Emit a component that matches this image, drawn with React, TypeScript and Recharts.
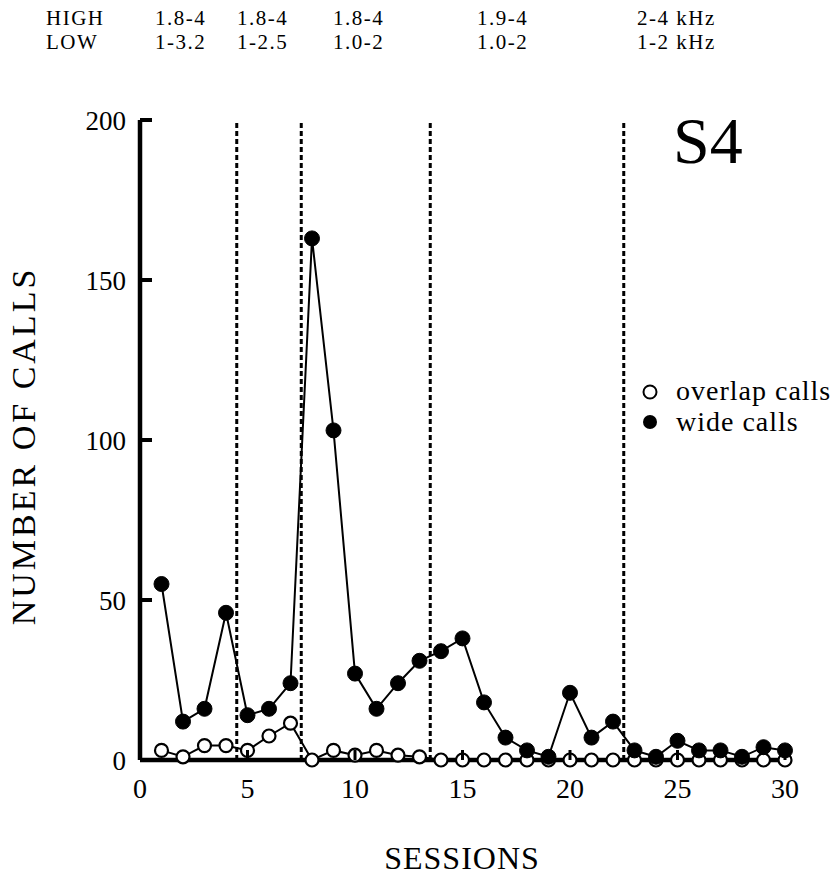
import { ComposedChart, Line, XAxis, YAxis, ReferenceLine } from "recharts";

// session numbers and call counts
const SESSION_NUMS = [1, 2, 3, 4, 5, 6, 7, 8, 9, 10, 11, 12, 13, 14, 15, 16, 17, 18, 19, 20, 21, 22, 23, 24, 25, 26, 27, 28, 29, 30];
const OVERLAP_CALLS = [3, 1, 4.5, 4.5, 3, 7.5, 11.5, 0, 3, 1.5, 3, 1.5, 1, 0, 0, 0, 0, 0, 0, 0, 0, 0, 0, 0, 0, 0, 0, 0, 0, 0];
const WIDE_CALLS = [55, 12, 16, 46, 14, 16, 24, 163, 103, 27, 16, 24, 31, 34, 38, 18, 7, 3, 1, 21, 7, 12, 3, 1, 6, 3, 3, 1, 4, 3];

const X_TICKS = [0, 5, 10, 15, 20, 25, 30];
const Y_TICKS = [0, 50, 100, 150, 200];
const PHASE_BOUNDARIES = [4.5, 7.5, 13.5, 22.5];

const HIGH_BANDS = ["1.8-4", "1.8-4", "1.8-4", "1.9-4", "2-4 kHz"];
const LOW_BANDS = ["1-3.2", "1-2.5", "1.0-2", "1.0-2", "1-2 kHz"];
const BAND_X = [155, 237, 333, 477, 637];

const SERIF = "'Liberation Serif', 'Times New Roman', serif";

const data = SESSION_NUMS.map((s, i) => ({
  session: s,
  overlap: OVERLAP_CALLS[i],
  wide: WIDE_CALLS[i],
}));

const YTick = ({ x, y, payload }: any) => (
  <g>
    {payload.value !== 0 && (
      <line x1={x} x2={x + 12} y1={y} y2={y} stroke="#000" strokeWidth={4} />
    )}
    <text x={x - 14} y={y} dy={10} textAnchor="end" fontSize={27} fontFamily={SERIF} fill="#000">
      {payload.value}
    </text>
  </g>
);

const XTick = ({ x, y, payload }: any) => (
  <g>
    {payload.value !== 0 && (
      <line x1={x} x2={x} y1={y} y2={y - 10} stroke="#000" strokeWidth={3} />
    )}
    <text x={x} y={y + 38} textAnchor="middle" fontSize={28} fontFamily={SERIF} fill="#000">
      {payload.value}
    </text>
  </g>
);

const OpenDot = (props: any) => {
  const { cx, cy, index } = props;
  return <circle key={`o-${index}`} cx={cx} cy={cy} r={6.5} fill="#fff" stroke="#000" strokeWidth={2.2} />;
};

const FilledDot = (props: any) => {
  const { cx, cy, index } = props;
  return <circle key={`w-${index}`} cx={cx} cy={cy} r={7.5} fill="#000" stroke="#000" strokeWidth={1} />;
};

export default function App() {
  return (
    <div style={{ position: "absolute", left: 0, top: 0, width: 834, height: 875, background: "#fff" }}>
      <ComposedChart
        width={834}
        height={875}
        data={data}
        margin={{ top: 120, right: 49, left: 0, bottom: 0 }}
      >
        <XAxis
          type="number"
          dataKey="session"
          domain={[0, 30]}
          ticks={X_TICKS}
          tick={<XTick />}
          tickLine={false}
          tickSize={0}
          tickMargin={0}
          height={115}
          axisLine={{ stroke: "#000", strokeWidth: 4.5 }}
        />
        <YAxis
          type="number"
          domain={[0, 200]}
          ticks={Y_TICKS}
          tick={<YTick />}
          tickLine={false}
          tickSize={0}
          tickMargin={0}
          width={140}
          axisLine={{ stroke: "#000", strokeWidth: 4.5 }}
        />
        {PHASE_BOUNDARIES.map(b => (
          <ReferenceLine key={b} x={b} stroke="#000" strokeWidth={3} strokeDasharray="5 3" />
        ))}
        <Line
          type="linear"
          dataKey="overlap"
          stroke="#000"
          strokeWidth={2}
          dot={OpenDot}
          isAnimationActive={false}
        />
        <Line
          type="linear"
          dataKey="wide"
          stroke="#000"
          strokeWidth={2}
          dot={FilledDot}
          isAnimationActive={false}
        />
      </ComposedChart>

      {/* header, panel label, legend and axis titles */}
      <svg
        width={834}
        height={875}
        style={{ position: "absolute", left: 0, top: 0, pointerEvents: "none" }}
        fontFamily={SERIF}
      >
        <g fontSize={21} letterSpacing={1.5} fill="#000">
          <text x={46} y={25}>HIGH</text>
          <text x={46} y={49}>LOW</text>
          {HIGH_BANDS.map((h, i) => (
            <text key={`h${i}`} x={BAND_X[i]} y={25}>{h}</text>
          ))}
          {LOW_BANDS.map((l, i) => (
            <text key={`l${i}`} x={BAND_X[i]} y={49}>{l}</text>
          ))}
        </g>
        <text x={673} y={163} fontSize={66} fill="#000">S4</text>

        <circle cx={650} cy={392} r={6.5} fill="#fff" stroke="#000" strokeWidth={2} />
        <text x={676} y={400} fontSize={28} letterSpacing={1} fill="#000">overlap calls</text>
        <circle cx={650} cy={422} r={7} fill="#000" />
        <text x={676} y={431} fontSize={28} letterSpacing={1} fill="#000">wide calls</text>

        <text
          transform="translate(35,446) rotate(-90)"
          textAnchor="middle"
          fontSize={34}
          letterSpacing={3}
          fill="#000"
        >
          NUMBER OF CALLS
        </text>
        <text x={462} y={869} textAnchor="middle" fontSize={32} letterSpacing={1} fill="#000">
          SESSIONS
        </text>
      </svg>
    </div>
  );
}
